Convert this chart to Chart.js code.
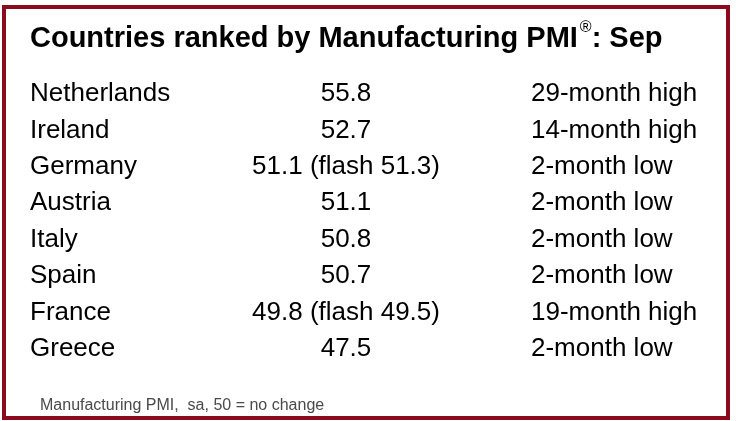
<!DOCTYPE html>
<html>
<head>
<meta charset="utf-8">
<script src="https://cdn.jsdelivr.net/npm/chart.js@4.4.1/dist/chart.umd.min.js"></script>
<style>
  html, body { margin: 0; padding: 0; background: #fff; }
  canvas { display: block; }
</style>
</head>
<body>
<canvas id="c" width="736" height="421"></canvas>
<script>
// ---- data ----
const titleMain = 'Countries ranked by Manufacturing PMI';
const titleMark = '\u00AE';
const titleTail = ': Sep';
const countries = ['Netherlands', 'Ireland', 'Germany', 'Austria', 'Italy', 'Spain', 'France', 'Greece'];
const pmi = [55.8, 52.7, 51.1, 51.1, 50.8, 50.7, 49.8, 47.5];
const flash = [null, null, 51.3, null, null, null, 49.5, null];
const notes = ['29-month high', '14-month high', '2-month low', '2-month low', '2-month low', '2-month low', '19-month high', '2-month low'];
const footnote = 'Manufacturing PMI,  sa, 50 = no change';

const FONT = "'Liberation Sans', Arial, Helvetica, sans-serif";

const tablePlugin = {
  id: 'tablePlugin',
  afterDraw(chart) {
    const ctx = chart.ctx;
    const y = chart.scales.y;
    ctx.save();
    // title
    ctx.fillStyle = '#000';
    ctx.textBaseline = 'alphabetic';
    ctx.textAlign = 'left';
    ctx.font = 'bold 29px ' + FONT;
    let x = 30;
    ctx.fillText(titleMain, x, 47);
    x += ctx.measureText(titleMain).width + 2;
    ctx.font = '16px ' + FONT;
    ctx.fillText(titleMark, x, 32);
    x += ctx.measureText(titleMark).width;
    ctx.font = 'bold 29px ' + FONT;
    ctx.fillText(titleTail, x, 47);

    // value and note columns
    ctx.font = '26px ' + FONT;
    ctx.textBaseline = 'middle';
    countries.forEach((c, i) => {
      const py = y.getPixelForTick(i);
      const txt = pmi[i].toFixed(1) + (flash[i] != null ? ' (flash ' + flash[i].toFixed(1) + ')' : '');
      ctx.textAlign = 'center';
      ctx.fillText(txt, 346, py);
      ctx.textAlign = 'left';
      ctx.fillText(notes[i], 531, py);
    });

    // footnote
    ctx.font = '16px ' + FONT;
    ctx.fillStyle = '#4a4a4a';
    ctx.textBaseline = 'alphabetic';
    ctx.fillText(footnote, 40, 410);

    // frame
    ctx.strokeStyle = '#8b0a1e';
    ctx.lineWidth = 4;
    ctx.strokeRect(4, 7, 724, 411);
    ctx.restore();
  }
};

new Chart(document.getElementById('c'), {
  type: 'bar',
  data: {
    labels: countries,
    datasets: [{
      data: pmi,
      backgroundColor: 'rgba(0,0,0,0)',
      borderWidth: 0
    }]
  },
  options: {
    indexAxis: 'y',
    responsive: false,
    animation: false,
    layout: { padding: { top: 76, bottom: 54, left: 30, right: 40 } },
    plugins: {
      legend: { display: false },
      tooltip: { enabled: false },
      title: { display: false }
    },
    scales: {
      x: { display: false, min: 0, max: 60 },
      y: {
        grid: { display: false },
        border: { display: false },
        ticks: {
          autoSkip: false,
          crossAlign: 'far',
          padding: 0,
          color: '#000',
          font: { family: FONT, size: 26 }
        }
      }
    }
  },
  plugins: [tablePlugin]
});
</script>
</body>
</html>
